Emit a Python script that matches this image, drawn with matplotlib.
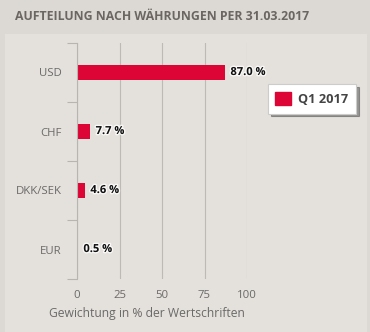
import matplotlib
matplotlib.use("Agg")
import matplotlib.pyplot as plt
from matplotlib.patches import Rectangle
import matplotlib.patheffects as pe
import numpy as np

categories = ["USD", "CHF", "DKK/SEK", "EUR"]
values = [87.0, 7.7, 4.6, 0.5]
value_labels = ["87.0 %", "7.7 %", "4.6 %", "0.5 %"]
xticks = [0, 25, 50, 75, 100]
series_name = "Q1 2017"
title = "AUFTEILUNG NACH WÄHRUNGEN PER 31.03.2017"
xlabel = "Gewichtung in % der Wertschriften"

plt.rcParams['font.family'] = ['Open Sans', 'DejaVu Sans']

W, H = 370, 332
fig = plt.figure(figsize=(W/100, H/100), dpi=100)
fig.patch.set_facecolor("#dcd8d3")

# inner panel
bg = fig.add_axes([5/W, 0, (367-5)/W, 1-34/H], zorder=-5)
bg.set_facecolor("#e4e0db")
bg.set_xticks([]); bg.set_yticks([])
for s in bg.spines.values():
    s.set_visible(False)

fig.text(15/W, 1-17/H, title, fontsize=8.8, fontweight="bold", color="#6b6661",
         va="center", ha="left")

ax = fig.add_axes([77/W, 1-279/H, (247-77)/W, (279-43)/H], zorder=1)
ax.set_facecolor("none")
red = "#dc0535"
y = np.arange(len(categories))
ax.barh(y, values, height=0.26, color=red, zorder=3, label=series_name)
ax.set_xlim(0, 100)
ax.set_ylim(len(categories)-0.5, -0.5)
ax.set_yticks(y)
ax.set_yticklabels(categories)
ax.set_yticks(np.arange(len(categories)+1)-0.5, minor=True)
ax.tick_params(axis="y", which="major", length=0, pad=11, labelsize=8.2, labelcolor="#6a6a6a")
ax.tick_params(axis="y", which="minor", length=7.5, width=0.8, color="#b8b4b0")
ax.set_xticks(xticks)
ax.tick_params(axis="x", length=0, pad=8, labelsize=8.2, labelcolor="#6a6a6a")
ax.grid(axis="x", color="#bdb9b5", linewidth=0.8, zorder=1)
for s in ["top", "right", "bottom"]:
    ax.spines[s].set_visible(False)
ax.spines["left"].set_color("#b8b4b0")
ax.spines["left"].set_linewidth(0.8)
ax.spines["left"].set_zorder(5)

for yi, v, lab in zip(y, values, value_labels):
    ax.annotate(lab, (v, yi), xytext=(4, 0), textcoords="offset points",
                va="center", ha="left", fontsize=8, fontweight="bold", color="#111111",
                path_effects=[pe.withStroke(linewidth=2, foreground="white", alpha=0.8)], zorder=4)

fig.text(147/W, 1-314/H, xlabel, fontsize=8.7, color="#6a6a6a", ha="center", va="center")

leg = fig.legend(handles=[Rectangle((0, 0), 1, 1, color=red)], labels=[series_name],
                 loc="center", bbox_to_anchor=(312/W, 1-99/H), frameon=True, fancybox=False,
                 shadow=True, prop={"weight": "bold", "size": 9.2},
                 handlelength=1.2, handleheight=1.2, borderpad=0.6, handletextpad=0.6,
                 borderaxespad=0)
leg.set_zorder(10)
leg.get_frame().set_edgecolor("#cccccc")
leg.get_frame().set_linewidth(0.8)
for t in leg.get_texts():
    t.set_color("#444444")

fig.savefig("out.png", dpi=100, facecolor=fig.get_facecolor())
